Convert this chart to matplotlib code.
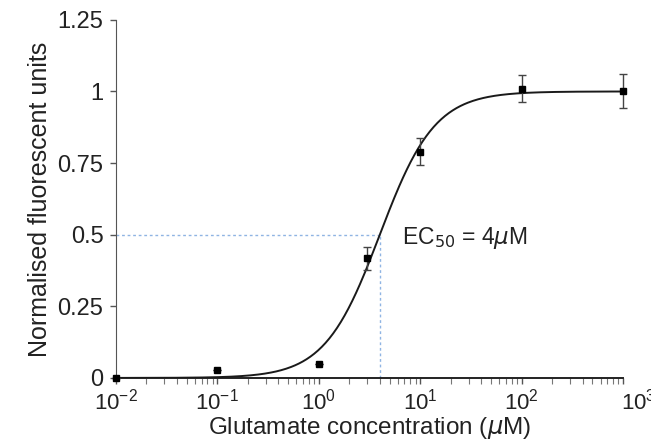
import matplotlib

matplotlib.use("Agg")
import matplotlib.pyplot as plt
import matplotlib.transforms as mtransforms
import numpy as np
from matplotlib.ticker import LogLocator, NullFormatter

plt.rcParams["font.family"] = ["Liberation Sans", "DejaVu Sans"]

# measured points (glutamate, µM) and normalised response
conc = [0.01, 0.1, 1, 3, 10, 100, 1000]
resp = [0.0, 0.028, 0.049, 0.418, 0.79, 1.009, 1.002]
err = [0.0, 0.0, 0.0, 0.04, 0.046, 0.047, 0.058]

# Hill fit parameters
ec50 = 4.0
hill = 1.6

TXT = "#222222"

fig = plt.figure(figsize=(6.51, 4.41), dpi=100)
ax = fig.add_axes([0.178, 0.143, 0.779, 0.812])

xs = np.logspace(-2, 3, 400)
ax.plot(xs, 1.0 / (1.0 + (ec50 / xs) ** hill), color="#1a1a1a", lw=1.4, zorder=3)

ax.errorbar(conc, resp, yerr=err, fmt="s", ms=5, color="black", ecolor="#444444",
            elinewidth=1.0, capsize=3, capthick=1.0, zorder=4, clip_on=False)

ax.plot([0.01, ec50], [0.5, 0.5], ls=(0, (2, 2)), color="#8fb4e3", lw=1.0, zorder=2)
ax.plot([ec50, ec50], [0, 0.5], ls=(0, (2, 2)), color="#8fb4e3", lw=1.0, zorder=2)

ax.text(6.6, 0.49, r"EC$_{50}$ = 4$\mu$M", fontsize=16.5, color=TXT, va="center", ha="left")

ax.set_xscale("log")
ax.set_xlim(0.01, 1000)
ax.set_ylim(0, 1.25)
ax.set_yticks([0, 0.25, 0.5, 0.75, 1, 1.25])
ax.set_yticklabels(["0", "0.25", "0.5", "0.75", "1", "1.25"])
ax.xaxis.set_major_locator(LogLocator(base=10, numticks=10))
ax.xaxis.set_minor_locator(LogLocator(base=10, subs=np.arange(2, 10), numticks=20))
ax.xaxis.set_minor_formatter(NullFormatter())

for s in ("top", "right"):
    ax.spines[s].set_visible(False)
ax.spines["left"].set_color("#555555")
ax.spines["bottom"].set_color("#222222")
ax.spines["bottom"].set_linewidth(1.4)
ax.tick_params(axis="both", which="major", direction="out", length=4, width=1,
               colors="#555555", labelcolor=TXT, labelsize=17)
ax.tick_params(axis="y", which="major", pad=5)
ax.tick_params(axis="x", which="major", pad=4, labelsize=16)
ax.tick_params(axis="x", which="minor", direction="out", length=4, width=0.8, colors="#777777")

ax.set_xlabel(r"Glutamate concentration ($\mu$M)", fontsize=17.5, color=TXT, labelpad=0)
ax.set_ylabel("Normalised fluorescent units", fontsize=18, color=TXT, labelpad=4)

# last decade label sits off to the right and runs past the edge, as in the source
fig.canvas.draw()
last = [t for t in ax.get_xticklabels() if t.get_position()[0] >= 999][0]
last.set_transform(last.get_transform() + mtransforms.ScaledTranslation(15 / 100, 0, fig.dpi_scale_trans))

fig.savefig("out.png", dpi=100)
